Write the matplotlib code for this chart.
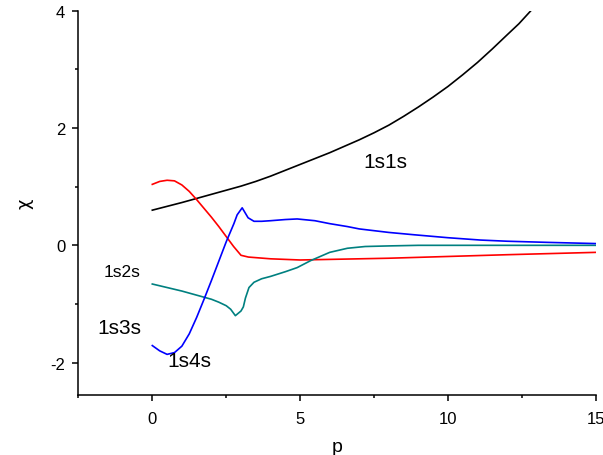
import matplotlib
matplotlib.use('Agg')
import matplotlib.pyplot as plt
from matplotlib.ticker import MultipleLocator

plt.rcParams['font.family'] = ['Liberation Sans', 'DejaVu Sans']
plt.rcParams['axes.unicode_minus'] = False

# 1s1s (black)
p_1s1s = [0, 0.5, 1, 1.5, 2, 2.5, 3, 3.5, 4, 4.5, 5, 5.5, 6, 6.5, 7, 7.5, 8, 8.5,
          9, 9.5, 10, 10.5, 11, 11.5, 12, 12.4, 12.8]
chi_1s1s = [0.60, 0.665, 0.73, 0.80, 0.87, 0.94, 1.01, 1.09, 1.18, 1.28, 1.38, 1.48, 1.58, 1.69,
            1.80, 1.92, 2.05, 2.20, 2.36, 2.53, 2.71, 2.91, 3.12, 3.35, 3.59, 3.78, 4.0]

# 1s2s (red)
p_1s2s = [0, 0.25, 0.5, 0.75, 1.0, 1.25, 1.5, 1.75, 2.0, 2.25, 2.5, 2.75, 3.0,
          3.25, 3.5, 4, 5, 6, 8, 10, 12, 15]
chi_1s2s = [1.04, 1.09, 1.11, 1.10, 1.03, 0.92, 0.78, 0.63, 0.48, 0.32, 0.15, -0.02, -0.17,
            -0.20, -0.21, -0.23, -0.25, -0.24, -0.22, -0.19, -0.16, -0.12]

# 1s3s (teal)
p_1s3s = [0, 0.5, 1, 1.5, 2, 2.25, 2.5, 2.65, 2.81, 3.0, 3.08, 3.15, 3.27, 3.44,
          3.7, 4.0, 4.5, 4.9, 5.36, 6.0, 6.6, 7.2, 8, 9, 10, 12, 15]
chi_1s3s = [-0.66, -0.72, -0.78, -0.85, -0.92, -0.97, -1.03, -1.09, -1.20, -1.12, -1.05, -0.90, -0.72, -0.63,
            -0.57, -0.53, -0.45, -0.38, -0.26, -0.12, -0.05, -0.02, -0.01, 0.0, 0.0, 0.0, 0.0]

# 1s4s (blue)
p_1s4s = [0, 0.25, 0.5, 0.75, 1.0, 1.25, 1.5, 1.75, 2.0, 2.25, 2.5, 2.76, 2.87, 3.04,
          3.24, 3.44, 3.7, 4.0, 4.5, 4.9, 5.5, 6, 6.6, 7, 8, 8.86, 10, 11.1, 12, 13.4, 15]
chi_1s4s = [-1.71, -1.80, -1.86, -1.83, -1.72, -1.51, -1.23, -0.92, -0.60, -0.27, 0.06, 0.37, 0.52, 0.64,
            0.47, 0.41, 0.41, 0.42, 0.44, 0.45, 0.42, 0.37, 0.32, 0.28, 0.22, 0.18, 0.13, 0.09, 0.07, 0.05, 0.03]

fig = plt.figure(figsize=(6.03, 4.56), dpi=100)
ax = fig.add_axes([0.130, 0.132, 0.858, 0.842])

lw = 1.2
ax.plot(p_1s1s, chi_1s1s, color='black', lw=lw)
ax.plot(p_1s2s, chi_1s2s, color='#ff0000', lw=lw)
ax.plot(p_1s3s, chi_1s3s, color='#008080', lw=lw)
ax.plot(p_1s4s, chi_1s4s, color='#0000ff', lw=lw)

ax.text(7.14, 1.34, '1s1s', fontsize=15)
ax.text(-1.63, -0.52, '1s2s', fontsize=12.5)
ax.text(-1.87, -1.50, '1s3s', fontsize=15)
ax.text(0.50, -2.06, '1s4s', fontsize=15)

ax.set_xlim(-2.5, 15)
ax.set_ylim(-2.55, 4)
ax.spines['top'].set_visible(False)
ax.spines['right'].set_visible(False)
for s in ['left', 'bottom']:
    ax.spines[s].set_linewidth(1.1)

ax.xaxis.set_major_locator(MultipleLocator(5))
ax.xaxis.set_minor_locator(MultipleLocator(2.5))
ax.yaxis.set_major_locator(MultipleLocator(2))
ax.yaxis.set_minor_locator(MultipleLocator(1))
ax.tick_params(which='major', direction='out', length=4.5, width=1.1, labelsize=12)
ax.tick_params(axis='x', which='major', pad=7)
ax.tick_params(axis='y', which='major', pad=5)
ax.tick_params(which='minor', direction='out', length=2.5, width=1.1)
ax.set_xticks([0, 5, 10, 15])

ax.set_xlabel('p', fontsize=14, labelpad=9)
ax.set_ylabel('χ', fontsize=13, labelpad=12, family='DejaVu Sans')

fig.savefig('out.png', dpi=100)
